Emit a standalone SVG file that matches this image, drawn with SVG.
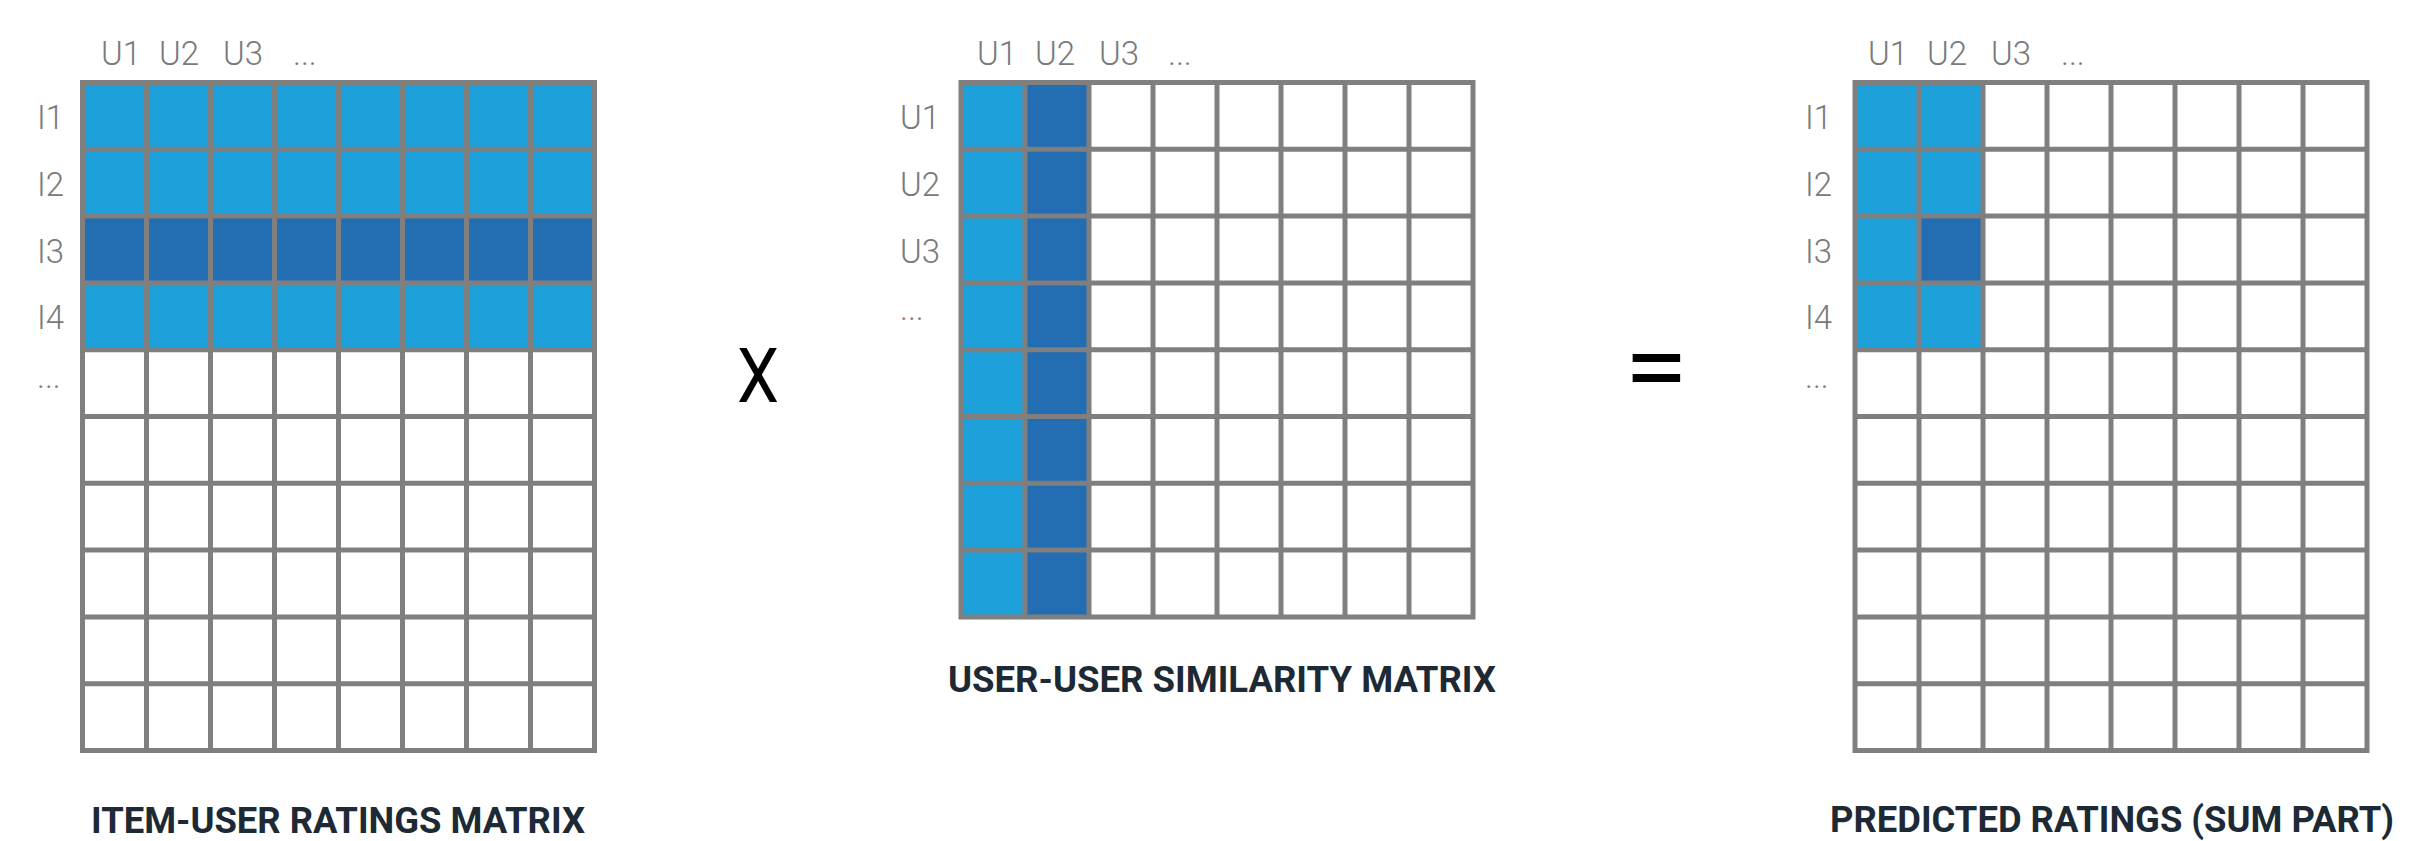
<svg xmlns="http://www.w3.org/2000/svg" xmlns:xlink="http://www.w3.org/1999/xlink" width="2415" height="841" viewBox="0 0 2415 841">
<style>
.lb{font-family:Roboto,"Liberation Sans",sans-serif;font-weight:300;font-size:33px;fill:#7a7a7a}
.tt{font-family:Roboto,"Liberation Sans",sans-serif;font-weight:700;font-size:37px;fill:#1d2a35}
.op{font-family:Roboto,"Liberation Sans",sans-serif;font-weight:400;fill:#000}
.grid{fill:none;stroke:#7f7f7f;stroke-width:5;stroke-linecap:square}
.lt{fill:#1ea0da}
.dk{fill:#236db3}
</style>
<defs>
<path id="g10" class="grid" d="M0 0V668M64 0V668M128 0V668M192 0V668M256 0V668M320 0V668M384 0V668M448 0V668M512 0V668M0 0H512M0 66.8H512M0 133.6H512M0 200.4H512M0 267.2H512M0 334H512M0 400.8H512M0 467.6H512M0 534.4H512M0 601.2H512M0 668H512"/>
<path id="g8" class="grid" d="M0 0V534.4M64 0V534.4M128 0V534.4M192 0V534.4M256 0V534.4M320 0V534.4M384 0V534.4M448 0V534.4M512 0V534.4M0 0H512M0 66.8H512M0 133.6H512M0 200.4H512M0 267.2H512M0 334H512M0 400.8H512M0 467.6H512M0 534.4H512"/>
</defs>
<rect width="2415" height="841" fill="#fff"/>

<g id="item-user-matrix">
  <g transform="translate(82.5,82.5)">
    <rect class="lt" x="0" y="0" width="512" height="133.6"/>
    <rect class="dk" x="0" y="133.6" width="512" height="66.8"/>
    <rect class="lt" x="0" y="200.4" width="512" height="66.8"/>
    <use xlink:href="#g10" href="#g10"/>
  </g>
  <text class="lb" x="101" y="65">U1</text>
  <text class="lb" x="159" y="65">U2</text>
  <text class="lb" x="223" y="65">U3</text>
  <text class="lb" x="293" y="65">...</text>
  <text class="lb" x="37" y="129.3">I1</text>
  <text class="lb" x="37" y="196">I2</text>
  <text class="lb" x="37" y="262.7">I3</text>
  <text class="lb" x="37" y="329.3">I4</text>
  <text class="lb" x="37" y="388">...</text>
  <text class="tt" x="91" y="833" textLength="494" lengthAdjust="spacingAndGlyphs">ITEM-USER RATINGS MATRIX</text>
</g>

<g id="user-user-matrix">
  <g transform="translate(961,82.5)">
    <rect class="lt" x="0" y="0" width="64" height="534.4"/>
    <rect class="dk" x="64" y="0" width="64" height="534.4"/>
    <use xlink:href="#g8" href="#g8"/>
  </g>
  <text class="lb" x="977" y="65">U1</text>
  <text class="lb" x="1035" y="65">U2</text>
  <text class="lb" x="1099" y="65">U3</text>
  <text class="lb" x="1168" y="65">...</text>
  <text class="lb" x="900" y="129.3">U1</text>
  <text class="lb" x="900" y="196">U2</text>
  <text class="lb" x="900" y="262.7">U3</text>
  <text class="lb" x="900" y="320">...</text>
  <text class="tt" x="948" y="692" textLength="548" lengthAdjust="spacingAndGlyphs">USER-USER SIMILARITY MATRIX</text>
</g>

<g id="predicted-matrix">
  <g transform="translate(1855,82.5)">
    <rect class="lt" x="0" y="0" width="64" height="267.2"/>
    <rect class="lt" x="64" y="0" width="64" height="133.6"/>
    <rect class="dk" x="64" y="133.6" width="64" height="66.8"/>
    <rect class="lt" x="64" y="200.4" width="64" height="66.8"/>
    <use xlink:href="#g10" href="#g10"/>
  </g>
  <text class="lb" x="1868" y="65">U1</text>
  <text class="lb" x="1927" y="65">U2</text>
  <text class="lb" x="1991" y="65">U3</text>
  <text class="lb" x="2061" y="65">...</text>
  <text class="lb" x="1805" y="129.3">I1</text>
  <text class="lb" x="1805" y="196">I2</text>
  <text class="lb" x="1805" y="262.7">I3</text>
  <text class="lb" x="1805" y="329.3">I4</text>
  <text class="lb" x="1805" y="388">...</text>
  <text class="tt" x="1830" y="832" textLength="564" lengthAdjust="spacingAndGlyphs">PREDICTED RATINGS (SUM PART)</text>
</g>

<g id="operators">
  <text id="times" class="op" x="737" y="402" font-size="76" font-weight="300" textLength="42" lengthAdjust="spacingAndGlyphs">X</text>
  <text id="equals" class="op" x="1624" y="402" font-size="100" font-weight="500" textLength="64" lengthAdjust="spacingAndGlyphs">=</text>
</g>

<g id="connectors"/>
</svg>
